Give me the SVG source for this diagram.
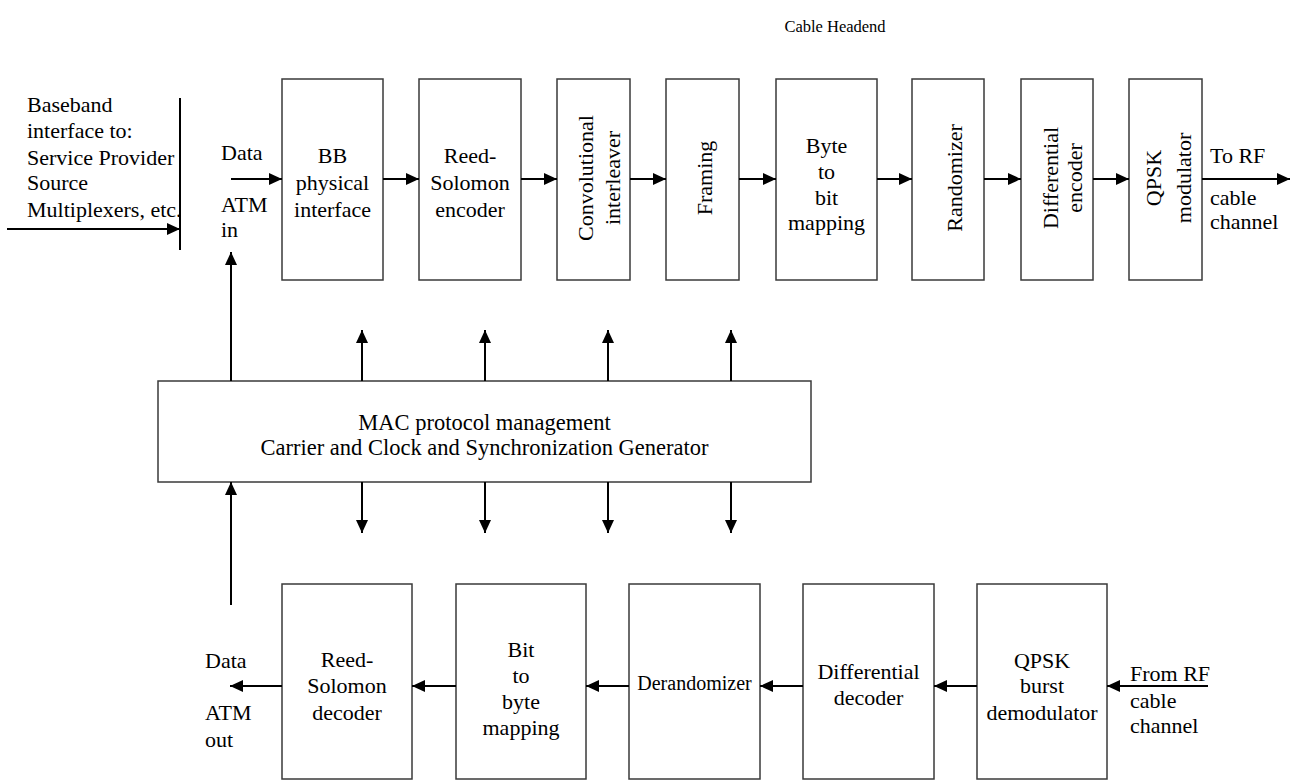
<svg xmlns="http://www.w3.org/2000/svg" width="1300" height="783" viewBox="0 0 1300 783">
  <style>
    .box { fill: #ffffff; stroke: #3a3a3a; stroke-width: 1.5; }
    .wire { fill: none; stroke: #000000; stroke-width: 2; }
    .arr { fill: none; stroke: #000000; stroke-width: 2; marker-end: url(#ah); }
    text { font-family: "Liberation Serif", "Times New Roman", serif; font-size: 22px; fill: #000000; }
    .c { text-anchor: middle; }
  </style>
  <defs>
    <marker id="ah" viewBox="0 0 13 12" refX="13" refY="6" markerWidth="13" markerHeight="12" markerUnits="userSpaceOnUse" orient="auto">
      <path d="M0,0 L13,6 L0,12 Z" fill="#000000"/>
    </marker>
  </defs>
  <rect width="1300" height="783" fill="#ffffff"/>

  <!-- title -->
  <text x="835" y="32" class="c" style="font-size:16.5px">Cable Headend</text>

  <!-- side labels -->
  <g id="baseband-label">
    <text x="27" y="112">Baseband</text>
    <text x="27" y="138">interface to:</text>
    <text x="27" y="165">Service Provider</text>
    <text x="27" y="190">Source</text>
    <text x="27" y="217">Multiplexers, etc.</text>
  </g>
  <g id="atm-in-label">
    <text x="221" y="160">Data</text>
    <text x="221" y="212">ATM</text>
    <text x="221" y="237">in</text>
  </g>
  <g id="rf-out-label">
    <text x="1210" y="163">To RF</text>
    <text x="1210" y="205">cable</text>
    <text x="1210" y="229">channel</text>
  </g>
  <g id="atm-out-label">
    <text x="205" y="668">Data</text>
    <text x="205" y="720">ATM</text>
    <text x="205" y="747">out</text>
  </g>
  <g id="rf-in-label">
    <text x="1130" y="681">From RF</text>
    <text x="1130" y="708">cable</text>
    <text x="1130" y="733">channel</text>
  </g>

  <!-- transmit chain -->
  <g id="bb-interface">
    <rect class="box" x="282" y="79" width="101" height="201"/>
    <text class="c" x="332.5"><tspan x="332.5" y="163">BB</tspan><tspan x="332.5" y="190">physical</tspan><tspan x="332.5" y="217">interface</tspan></text>
  </g>
  <g id="rs-encoder">
    <rect class="box" x="419" y="79" width="102" height="201"/>
    <text class="c"><tspan x="470" y="163">Reed-</tspan><tspan x="470" y="190">Solomon</tspan><tspan x="470" y="217">encoder</tspan></text>
  </g>
  <g id="conv-interleaver">
    <rect class="box" x="557" y="79" width="73" height="201"/>
    <text class="c" transform="translate(593,178) rotate(-90)"><tspan x="0" y="0">Convolutional</tspan><tspan x="0" y="27">interleaver</tspan></text>
  </g>
  <g id="framing">
    <rect class="box" x="666" y="79" width="73" height="201"/>
    <text class="c" transform="translate(712,178) rotate(-90)">Framing</text>
  </g>
  <g id="byte-to-bit">
    <rect class="box" x="776" y="79" width="101" height="201"/>
    <text class="c"><tspan x="826.5" y="153">Byte</tspan><tspan x="826.5" y="179">to</tspan><tspan x="826.5" y="205">bit</tspan><tspan x="826.5" y="230">mapping</tspan></text>
  </g>
  <g id="randomizer">
    <rect class="box" x="912" y="79" width="72" height="201"/>
    <text class="c" transform="translate(962,178) rotate(-90)">Randomizer</text>
  </g>
  <g id="diff-encoder">
    <rect class="box" x="1021" y="79" width="72" height="201"/>
    <text class="c" transform="translate(1058,178) rotate(-90)"><tspan x="0" y="0">Differential</tspan><tspan x="0" y="24">encoder</tspan></text>
  </g>
  <g id="qpsk-modulator">
    <rect class="box" x="1129" y="79" width="73" height="201"/>
    <text class="c" transform="translate(1161,178) rotate(-90)"><tspan x="0" y="0">QPSK</tspan><tspan x="0" y="30">modulator</tspan></text>
  </g>

  <!-- MAC / timing block -->
  <g id="mac-management">
    <rect class="box" x="158" y="381" width="653" height="101"/>
    <text class="c" style="font-size:22.5px"><tspan x="484.5" y="430">MAC protocol management</tspan><tspan x="484.5" y="455">Carrier and Clock and Synchronization Generator</tspan></text>
  </g>

  <!-- receive chain -->
  <g id="rs-decoder">
    <rect class="box" x="282" y="584" width="130" height="195"/>
    <text class="c"><tspan x="347" y="667">Reed-</tspan><tspan x="347" y="693">Solomon</tspan><tspan x="347" y="720">decoder</tspan></text>
  </g>
  <g id="bit-to-byte">
    <rect class="box" x="456" y="584" width="130" height="195"/>
    <text class="c"><tspan x="521" y="657">Bit</tspan><tspan x="521" y="683">to</tspan><tspan x="521" y="709">byte</tspan><tspan x="521" y="735">mapping</tspan></text>
  </g>
  <g id="derandomizer">
    <rect class="box" x="629" y="584" width="131" height="195"/>
    <text class="c" x="694.5" y="690" style="font-size:20px">Derandomizer</text>
  </g>
  <g id="diff-decoder">
    <rect class="box" x="803" y="584" width="131" height="195"/>
    <text class="c"><tspan x="868.5" y="679">Differential</tspan><tspan x="868.5" y="705">decoder</tspan></text>
  </g>
  <g id="qpsk-demodulator">
    <rect class="box" x="977" y="584" width="130" height="195"/>
    <text class="c"><tspan x="1042" y="668">QPSK</tspan><tspan x="1042" y="693">burst</tspan><tspan x="1042" y="720">demodulator</tspan></text>
  </g>

  <!-- connectors -->
  <g id="connectors">
    <!-- baseband input -->
    <line class="wire" x1="180" y1="98" x2="180" y2="250"/>
    <line class="arr" x1="7" y1="229" x2="180" y2="229"/>
    <!-- transmit path -->
    <line class="arr" x1="231" y1="179" x2="282" y2="179"/>
    <line class="arr" x1="383" y1="179" x2="419" y2="179"/>
    <line class="arr" x1="521" y1="179" x2="557" y2="179"/>
    <line class="arr" x1="630" y1="179" x2="666" y2="179"/>
    <line class="arr" x1="739" y1="179" x2="776" y2="179"/>
    <line class="arr" x1="877" y1="179" x2="912" y2="179"/>
    <line class="arr" x1="984" y1="179" x2="1021" y2="179"/>
    <line class="arr" x1="1093" y1="179" x2="1129" y2="179"/>
    <line class="arr" x1="1202" y1="179" x2="1290" y2="179"/>
    <!-- MAC to ATM in, and ATM out to MAC -->
    <line class="arr" x1="231" y1="381" x2="231" y2="252"/>
    <line class="arr" x1="231" y1="605" x2="231" y2="482"/>
    <!-- MAC control lines up -->
    <line class="arr" x1="362" y1="381" x2="362" y2="330"/>
    <line class="arr" x1="485" y1="381" x2="485" y2="330"/>
    <line class="arr" x1="608" y1="381" x2="608" y2="330"/>
    <line class="arr" x1="731" y1="381" x2="731" y2="330"/>
    <!-- MAC control lines down -->
    <line class="arr" x1="362" y1="482" x2="362" y2="533"/>
    <line class="arr" x1="485" y1="482" x2="485" y2="533"/>
    <line class="arr" x1="608" y1="482" x2="608" y2="533"/>
    <line class="arr" x1="731" y1="482" x2="731" y2="533"/>
    <!-- receive path -->
    <line class="arr" x1="1208" y1="686" x2="1107" y2="686"/>
    <line class="arr" x1="977" y1="686" x2="934" y2="686"/>
    <line class="arr" x1="803" y1="686" x2="760" y2="686"/>
    <line class="arr" x1="629" y1="686" x2="586" y2="686"/>
    <line class="arr" x1="456" y1="686" x2="412" y2="686"/>
    <line class="arr" x1="282" y1="686" x2="230" y2="686"/>
  </g>
</svg>
